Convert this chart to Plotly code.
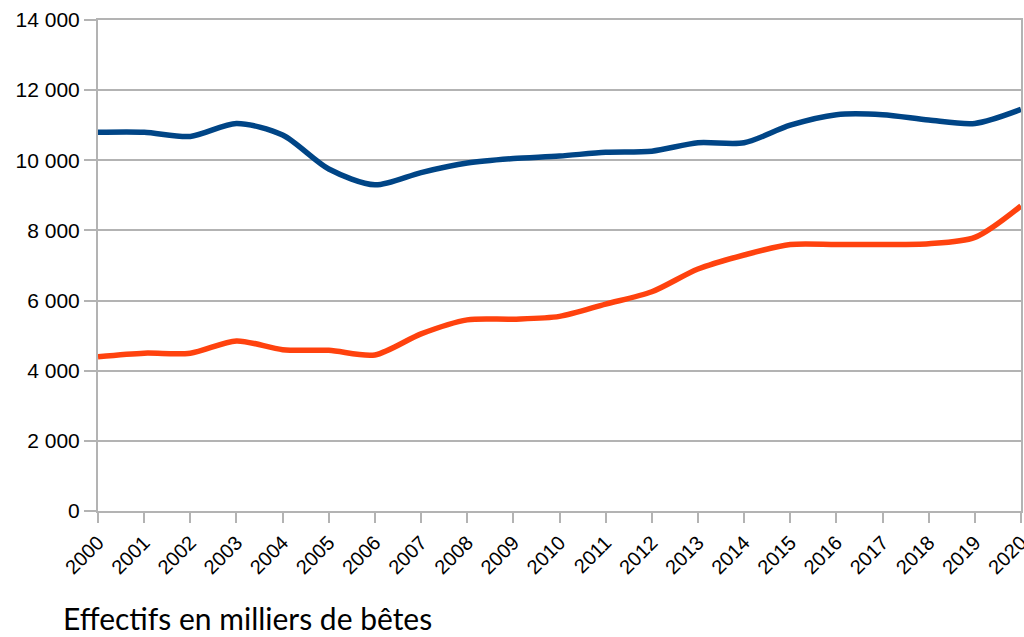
import plotly.graph_objects as go

years = list(range(2000, 2021))
blue_values = [10800, 10800, 10680, 11050, 10720, 9750, 9300, 9650, 9920, 10050, 10120,
               10230, 10260, 10500, 10500, 11000, 11300, 11300, 11150, 11050, 11450]
orange_values = [4400, 4500, 4500, 4850, 4600, 4580, 4450, 5050, 5450, 5470, 5550,
                 5900, 6250, 6900, 7300, 7600, 7600, 7600, 7620, 7800, 8700]
y_tick_vals = [0, 2000, 4000, 6000, 8000, 10000, 12000, 14000]
y_tick_text = ["0", "2 000", "4 000", "6 000", "8 000", "10 000", "12 000", "14 000"]
caption = "Effectifs en milliers de bêtes"

fig = go.Figure()
fig.add_trace(go.Scatter(x=years, y=blue_values, mode="lines",
                         line=dict(color="#004586", width=5.5, shape="spline", smoothing=0.8),
                         showlegend=False))
fig.add_trace(go.Scatter(x=years, y=orange_values, mode="lines",
                         line=dict(color="#ff420e", width=5.5, shape="spline", smoothing=0.8),
                         showlegend=False))

grid = "#b3b3b3"
fig.update_layout(
    width=1024, height=637,
    margin=dict(l=98, r=3, t=20, b=126),
    paper_bgcolor="white", plot_bgcolor="white",
    font=dict(family="Liberation Sans", color="black"),
    xaxis=dict(range=[2000, 2020], tickvals=years, ticktext=[str(y) for y in years],
               tickangle=-45, tickfont=dict(size=20, family="Liberation Sans"),
               ticklabeloverflow="allow",
               showgrid=False, showline=True, linecolor=grid, linewidth=2, mirror=True,
               ticks="outside", ticklen=10, tickcolor=grid, tickwidth=2, zeroline=False,
               automargin=False),
    yaxis=dict(range=[0, 14000], tickvals=y_tick_vals, ticktext=y_tick_text,
               tickfont=dict(size=21, family="Liberation Sans"),
               showgrid=True, gridcolor=grid, gridwidth=2,
               showline=True, linecolor=grid, linewidth=2, mirror=True,
               ticks="outside", ticklen=12, tickcolor=grid, tickwidth=2, zeroline=False,
               automargin=False),
    annotations=[dict(text=caption, xref="paper", yref="paper", x=-0.040, y=-0.178,
                      xanchor="left", yanchor="top", showarrow=False,
                      font=dict(family="Lato", size=30, color="black"))],
)

fig.write_html("out.html", config={"displayModeBar": False},
               post_script="document.body.style.margin='0';document.body.style.overflow='hidden';")
